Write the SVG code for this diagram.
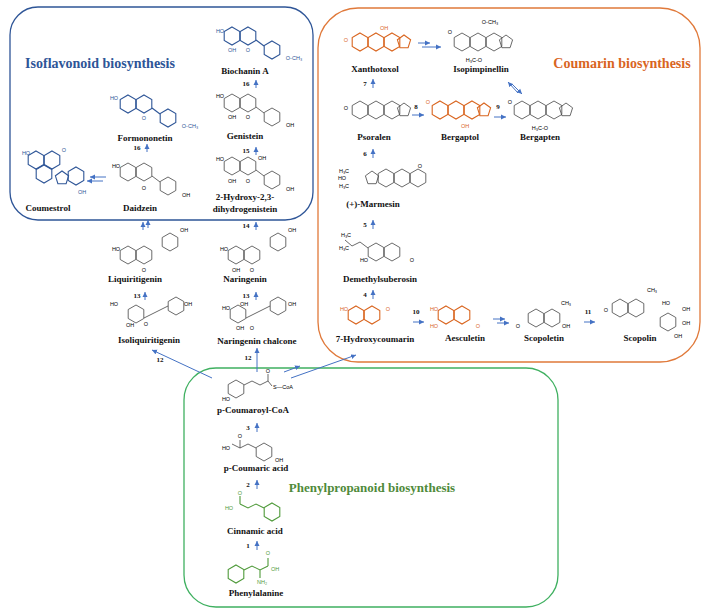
<svg xmlns="http://www.w3.org/2000/svg" width="712" height="616" viewBox="0 0 712 616">
<style>
.lbl{font-family:"Liberation Serif",serif;font-weight:bold;font-size:9px;fill:#111;text-anchor:middle}
.num{font-family:"Liberation Serif",serif;font-weight:bold;font-size:7px;fill:#111;text-anchor:middle}
.at{font-family:"Liberation Sans",sans-serif;font-size:5.5px;text-anchor:middle}
.k{fill:none;stroke:#444;stroke-width:0.8}
.b{fill:none;stroke:#2e5597;stroke-width:1.1}
.o{fill:none;stroke:#d9651f;stroke-width:1.1}
.g{fill:none;stroke:#4f9a3a;stroke-width:1.1}
.ar{stroke:#4472c4;stroke-width:1;fill:none;marker-end:url(#ah)}
.box{fill:none;stroke-width:1.3}
</style>
<defs>
<marker id="ah" markerWidth="6" markerHeight="6" refX="5" refY="3" orient="auto" markerUnits="userSpaceOnUse"><path d="M0,0.5 L5,3 L0,5.5z" fill="#4472c4"/></marker>
<polygon id="hx" points="0,-9 7.8,-4.5 7.8,4.5 0,9 -7.8,4.5 -7.8,-4.5"/>
<polygon id="pt" points="0,-7 6.6,-2.2 4.1,5.7 -4.1,5.7 -6.6,-2.2"/>
</defs>

<g id="boxes">
<rect x="10" y="7" width="303" height="213" rx="28" class="box" stroke="#2e5597"/>
<rect x="318" y="8" width="382" height="354" rx="40" class="box" stroke="#e0793a"/>
<rect x="184" y="368" width="374" height="239" rx="32" class="box" stroke="#3fb060"/>
<text x="100" y="68" style="font-family:'Liberation Serif',serif;font-weight:bold;font-size:14px;fill:#2e5597;text-anchor:middle">Isoflavonoid biosynthesis</text>
<text x="622" y="68" style="font-family:'Liberation Serif',serif;font-weight:bold;font-size:14px;fill:#d9651f;text-anchor:middle">Coumarin biosynthesis</text>
<text x="372" y="492" style="font-family:'Liberation Serif',serif;font-weight:bold;font-size:13px;fill:#4f8a3a;text-anchor:middle">Phenylpropanoid biosynthesis</text>
</g>

<g id="biochanin">
<use href="#hx" x="232" y="36" class="b"/><use href="#hx" x="248" y="36" class="b"/><path d="M256,40 L264,46" class="b"/><use href="#hx" x="272" y="50" class="b"/>
<text x="220" y="33" class="at" fill="#2e5597">HO</text><text x="232" y="52" class="at" fill="#2e5597">OH</text><text x="248" y="52" class="at" fill="#2e5597">O</text><text x="294" y="60" class="at" fill="#2e5597">O-CH₃</text>
<text x="245" y="74" class="lbl">Biochanin A</text></g>
<g id="genistein">
<use href="#hx" x="232" y="103" class="k"/><use href="#hx" x="248" y="103" class="k"/><path d="M256,107 L264,113" class="k"/><use href="#hx" x="272" y="117" class="k"/>
<text x="220" y="98" class="at">HO</text><text x="232" y="119" class="at">OH</text><text x="248" y="119" class="at">O</text><text x="290" y="127" class="at">OH</text>
<text x="245" y="139" class="lbl">Genistein</text></g>
<g id="dihydrogenistein">
<use href="#hx" x="232" y="166" class="k"/><use href="#hx" x="248" y="166" class="k"/><path d="M256,170 L264,176" class="k"/><use href="#hx" x="272" y="180" class="k"/>
<text x="220" y="161" class="at">HO</text><text x="262" y="160" class="at">OH</text><text x="232" y="183" class="at">OH</text><text x="248" y="183" class="at">O</text><text x="290" y="191" class="at">OH</text>
<text x="245" y="200" class="lbl">2-Hydroxy-2,3-</text><text x="245" y="212" class="lbl">dihydrogenistein</text></g>
<g id="formononetin">
<use href="#hx" x="128" y="104" class="b"/><use href="#hx" x="144" y="104" class="b"/><path d="M152,108 L160,114" class="b"/><use href="#hx" x="168" y="118" class="b"/>
<text x="114" y="100" class="at" fill="#2e5597">HO</text><text x="144" y="120" class="at" fill="#2e5597">O</text><text x="190" y="128" class="at" fill="#2e5597">O-CH₃</text>
<text x="145" y="141" class="lbl">Formononetin</text></g>
<g id="daidzein">
<use href="#hx" x="128" y="172" class="k"/><use href="#hx" x="144" y="172" class="k"/><path d="M152,176 L160,182" class="k"/><use href="#hx" x="168" y="186" class="k"/>
<text x="116" y="168" class="at">HO</text><text x="144" y="190" class="at">O</text><text x="186" y="197" class="at">OH</text>
<text x="140" y="211" class="lbl">Daidzein</text></g>
<g id="coumestrol">
<use href="#hx" x="36" y="160" class="b"/><use href="#hx" x="52" y="160" class="b"/><use href="#hx" x="44" y="174" class="b"/><use href="#pt" x="62" y="178" class="b"/><use href="#hx" x="76" y="176" class="b"/>
<text x="26" y="155" class="at" fill="#2e5597">HO</text><text x="64" y="152" class="at" fill="#2e5597">O</text><text x="82" y="194" class="at" fill="#2e5597">OH</text>
<text x="48" y="211" class="lbl">Coumestrol</text></g>
<g id="liquiritigenin">
<use href="#hx" x="128" y="255" class="k"/><use href="#hx" x="144" y="255" class="k"/><use href="#hx" x="170" y="242" class="k"/>
<text x="116" y="251" class="at">HO</text><text x="144" y="272" class="at">O</text><text x="184" y="232" class="at">OH</text>
<text x="135" y="282" class="lbl">Liquiritigenin</text></g>
<g id="naringenin">
<use href="#hx" x="236" y="255" class="k"/><use href="#hx" x="252" y="255" class="k"/><use href="#hx" x="278" y="242" class="k"/>
<text x="224" y="251" class="at">HO</text><text x="236" y="272" class="at">OH</text><text x="252" y="272" class="at">O</text><text x="292" y="232" class="at">OH</text>
<text x="245" y="282" class="lbl">Naringenin</text></g>
<g id="isoliquiritigenin">
<use href="#hx" x="136" y="314" class="k"/><path d="M144,318 L152,314 L160,310 L168,306" class="k"/><use href="#hx" x="176" y="306" class="k"/>
<text x="114" y="306" class="at">HO</text><text x="130" y="327" class="at">OH</text><text x="146" y="326" class="at">O</text><text x="188" y="306" class="at">OH</text>
<text x="149" y="343" class="lbl">Isoliquiritigenin</text></g>
<g id="naringeninchalcone">
<use href="#hx" x="238" y="314" class="k"/><path d="M246,318 L254,314 L262,310 L270,306" class="k"/><use href="#hx" x="278" y="306" class="k"/>
<text x="226" y="310" class="at">HO</text><text x="244" y="306" class="at">OH</text><text x="240" y="330" class="at">OH</text><text x="252" y="330" class="at">O</text><text x="292" y="306" class="at">OH</text>
<text x="257" y="344" class="lbl">Naringenin chalcone</text></g>

<g id="pcoumaroylcoa">
<use href="#hx" x="236" y="389" class="k"/><path d="M244,385 L252,381 L260,385 L268,381 L272,386 M268,381 L268,374" class="k"/>
<text x="226" y="401" class="at">HO</text><text x="268" y="373" class="at">O</text><text x="283" y="389" class="at">S—CoA</text>
<text x="253" y="413" class="lbl">p-Coumaroyl-CoA</text></g>
<g id="pcoumaricacid">
<use href="#hx" x="264" y="452" class="k"/><path d="M256,448 L248,444 L240,448 L232,444 M240,448 L240,440" class="k"/>
<text x="226" y="450" class="at">HO</text><text x="240" y="438" class="at">O</text><text x="279" y="462" class="at">OH</text>
<text x="256" y="471" class="lbl">p-Coumaric acid</text></g>
<g id="cinnamicacid">
<use href="#hx" x="272" y="512" class="g"/><path d="M264,508 L256,504 L248,508 L240,504 M240,504 L240,496" class="g"/>
<text x="229" y="510" class="at" fill="#4f9a3a">HO</text><text x="240" y="495" class="at" fill="#4f9a3a">O</text>
<text x="255" y="534" class="lbl">Cinnamic acid</text></g>
<g id="phenylalanine">
<use href="#hx" x="236" y="574" class="g"/><path d="M244,570 L252,566 L260,570 L268,566 M260,570 L260,578 M268,566 L268,558" class="g"/>
<text x="275" y="571" class="at" fill="#4f9a3a">OH</text><text x="268" y="555" class="at" fill="#4f9a3a">O</text><text x="262" y="584" class="at" fill="#4f9a3a">NH₂</text>
<text x="256" y="596" class="lbl">Phenylalanine</text></g>

<g id="xanthotoxol">
<use href="#hx" x="360" y="42" class="o"/><use href="#hx" x="376" y="42" class="o"/><use href="#hx" x="392" y="42" class="o"/><use href="#pt" x="404" y="42" class="o"/>
<text x="346" y="42" class="at" fill="#d9651f">O</text><text x="384" y="30" class="at" fill="#d9651f">OH</text>
<text x="375" y="72" class="lbl">Xanthotoxol</text></g>
<g id="isopimpinellin">
<use href="#hx" x="462" y="42" class="k"/><use href="#hx" x="478" y="42" class="k"/><use href="#hx" x="494" y="42" class="k"/><use href="#pt" x="506" y="42" class="k"/>
<text x="450" y="34" class="at">O</text><text x="490" y="24" class="at">O-CH₃</text><text x="474" y="62" class="at">H₃C-O</text>
<text x="481" y="72" class="lbl">Isopimpinellin</text></g>
<g id="psoralen">
<use href="#hx" x="360" y="110" class="k"/><use href="#hx" x="376" y="110" class="k"/><use href="#hx" x="392" y="110" class="k"/><use href="#pt" x="404" y="110" class="k"/>
<text x="346" y="110" class="at">O</text>
<text x="374" y="140" class="lbl">Psoralen</text></g>
<g id="bergaptol">
<use href="#hx" x="440" y="110" class="o"/><use href="#hx" x="456" y="110" class="o"/><use href="#hx" x="472" y="110" class="o"/><use href="#pt" x="484" y="110" class="o"/>
<text x="428" y="104" class="at" fill="#d9651f">O</text><text x="465" y="128" class="at" fill="#d9651f">OH</text>
<text x="460" y="140" class="lbl">Bergaptol</text></g>
<g id="bergapten">
<use href="#hx" x="522" y="110" class="k"/><use href="#hx" x="538" y="110" class="k"/><use href="#hx" x="554" y="110" class="k"/><use href="#pt" x="566" y="110" class="k"/>
<text x="510" y="104" class="at">O</text><text x="540" y="130" class="at">H₃C-O</text>
<text x="540" y="140" class="lbl">Bergapten</text></g>
<g id="marmesin">
<use href="#pt" x="372" y="178" class="k"/><use href="#hx" x="386" y="178" class="k"/><use href="#hx" x="402" y="178" class="k"/><use href="#hx" x="418" y="178" class="k"/>
<text x="344" y="173" class="at">H₃C</text><text x="342" y="180" class="at">HO</text><text x="344" y="188" class="at">H₃C</text><text x="420" y="168" class="at">O</text>
<text x="373" y="207" class="lbl">(+)-Marmesin</text></g>
<g id="demethylsuberosin">
<path d="M345,240 L352,246 L360,242 L368,248" class="k"/><use href="#hx" x="376" y="252" class="k"/><use href="#hx" x="392" y="252" class="k"/>
<text x="346" y="237" class="at">H₃C</text><text x="344" y="250" class="at">H₃C</text><text x="364" y="262" class="at">HO</text><text x="412" y="262" class="at">O</text>
<text x="380" y="282" class="lbl">Demethylsuberosin</text></g>
<g id="hydroxycoumarin">
<use href="#hx" x="356" y="315" class="o"/><use href="#hx" x="372" y="315" class="o"/>
<text x="344" y="311" class="at" fill="#d9651f">HO</text><text x="388" y="311" class="at" fill="#d9651f">O</text>
<text x="375" y="342" class="lbl">7-Hydroxycoumarin</text></g>
<g id="aesculetin">
<use href="#hx" x="446" y="315" class="o"/><use href="#hx" x="462" y="315" class="o"/>
<text x="434" y="311" class="at" fill="#d9651f">HO</text><text x="434" y="328" class="at" fill="#d9651f">HO</text><text x="478" y="328" class="at" fill="#d9651f">O</text>
<text x="465" y="341" class="lbl">Aesculetin</text></g>
<g id="scopoletin">
<use href="#hx" x="536" y="318" class="k"/><use href="#hx" x="552" y="318" class="k"/>
<text x="518" y="328" class="at">O</text><text x="566" y="305" class="at">CH₃</text><text x="566" y="328" class="at">OH</text>
<text x="544" y="341" class="lbl">Scopoletin</text></g>
<g id="scopolin">
<use href="#hx" x="620" y="308" class="k"/><use href="#hx" x="636" y="308" class="k"/><use href="#hx" x="668" y="322" class="k"/>
<text x="606" y="312" class="at">O</text><text x="652" y="292" class="at">CH₃</text><text x="666" y="305" class="at">HO</text><text x="686" y="311" class="at">OH</text><text x="686" y="325" class="at">OH</text><text x="678" y="338" class="at">OH</text>
<text x="640" y="341" class="lbl">Scopolin</text></g>

<g id="connectors">
<path d="M256,88 V80" class="ar"/><text x="246" y="86" class="num">16</text>
<path d="M256,155 V147" class="ar"/><text x="246" y="153" class="num">15</text>
<path d="M256,230 V222" class="ar"/><text x="246" y="228" class="num">14</text>
<path d="M256,300 V292" class="ar"/><text x="246" y="298" class="num">13</text>
<path d="M147,152 V144" class="ar"/><text x="137" y="150" class="num">16</text>
<path d="M106,177 H90" class="ar"/><path d="M103,181 H87" class="ar"/>
<path d="M143,230 V222" class="ar"/><path d="M148,228 V220" class="ar"/>
<path d="M145,300 V292" class="ar"/><text x="137" y="298" class="num">13</text>
<path d="M212,378 L152,350" class="ar"/><text x="160" y="362" class="num">12</text>
<path d="M257,372 V348" class="ar"/><text x="248" y="360" class="num">12</text>
<path d="M291,378 L356,355" class="ar"/><path d="M284,372 L300,366" class="ar"/>
<path d="M257,432 V423" class="ar"/><text x="248" y="430" class="num">3</text>
<path d="M257,489 V480" class="ar"/><text x="248" y="487" class="num">2</text>
<path d="M257,550 V541" class="ar"/><text x="248" y="548" class="num">1</text>
<path d="M373,299 V290" class="ar"/><text x="365" y="297" class="num">4</text>
<path d="M373,229 V220" class="ar"/><text x="365" y="227" class="num">5</text>
<path d="M373,158 V149" class="ar"/><text x="365" y="156" class="num">6</text>
<path d="M373,88 V79" class="ar"/><text x="365" y="86" class="num">7</text>
<path d="M412,115 H424" class="ar"/><text x="416" y="109" class="num">8</text>
<path d="M494,117 H506" class="ar"/><text x="498" y="109" class="num">9</text>
<path d="M413,322 H424" class="ar"/><text x="416" y="314" class="num">10</text>
<path d="M493,319 H505" class="ar"/><path d="M497,323 H509" class="ar"/>
<path d="M584,322 H595" class="ar"/><text x="588" y="314" class="num">11</text>
<path d="M418,43 H430" class="ar"/><path d="M422,47 H441" class="ar"/>
<path d="M518,93 L508,82" class="ar"/><path d="M512,84 L522,94" class="ar"/>
</g>
</svg>
